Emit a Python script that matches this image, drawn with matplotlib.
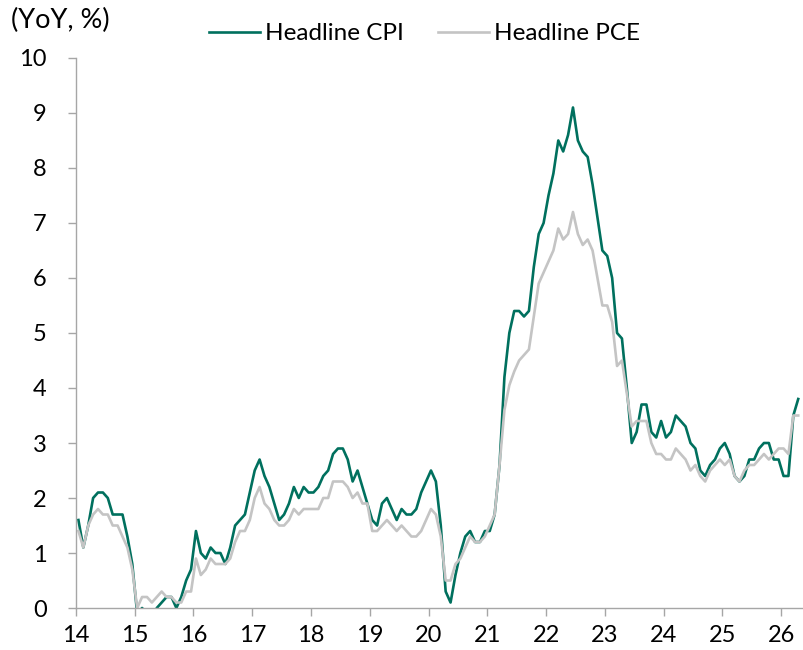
import numpy as np
import matplotlib
matplotlib.use('Agg')
import matplotlib.pyplot as plt

plt.rcParams['font.family'] = ['Lato', 'DejaVu Sans']

# Monthly YoY, %, Jan 2014 - Apr 2026
cpi_2014 = [1.6, 1.1, 1.5, 2.0, 2.1, 2.1, 2.0, 1.7, 1.7, 1.7, 1.3, 0.8]
cpi_2015 = [-0.1, 0.0, -0.1, -0.2, 0.0, 0.1, 0.2, 0.2, 0.0, 0.2, 0.5, 0.7]
cpi_2016 = [1.4, 1.0, 0.9, 1.1, 1.0, 1.0, 0.8, 1.1, 1.5, 1.6, 1.7, 2.1]
cpi_2017 = [2.5, 2.7, 2.4, 2.2, 1.9, 1.6, 1.7, 1.9, 2.2, 2.0, 2.2, 2.1]
cpi_2018 = [2.1, 2.2, 2.4, 2.5, 2.8, 2.9, 2.9, 2.7, 2.3, 2.5, 2.2, 1.9]
cpi_2019 = [1.6, 1.5, 1.9, 2.0, 1.8, 1.6, 1.8, 1.7, 1.7, 1.8, 2.1, 2.3]
cpi_2020 = [2.5, 2.3, 1.5, 0.3, 0.1, 0.6, 1.0, 1.3, 1.4, 1.2, 1.2, 1.4]
cpi_2021 = [1.4, 1.7, 2.6, 4.2, 5.0, 5.4, 5.4, 5.3, 5.4, 6.2, 6.8, 7.0]
cpi_2022 = [7.5, 7.9, 8.5, 8.3, 8.6, 9.1, 8.5, 8.3, 8.2, 7.7, 7.1, 6.5]
cpi_2023 = [6.4, 6.0, 5.0, 4.9, 4.0, 3.0, 3.2, 3.7, 3.7, 3.2, 3.1, 3.4]
cpi_2024 = [3.1, 3.2, 3.5, 3.4, 3.3, 3.0, 2.9, 2.5, 2.4, 2.6, 2.7, 2.9]
cpi_2025 = [3.0, 2.8, 2.4, 2.3, 2.4, 2.7, 2.7, 2.9, 3.0, 3.0, 2.7, 2.7]
cpi_2026 = [2.4, 2.4, 3.5, 3.8]

pce_2014 = [1.4, 1.1, 1.5, 1.7, 1.8, 1.7, 1.7, 1.5, 1.5, 1.3, 1.1, 0.7]
pce_2015 = [0.0, 0.2, 0.2, 0.1, 0.2, 0.3, 0.2, 0.2, 0.1, 0.1, 0.3, 0.3]
pce_2016 = [0.9, 0.6, 0.7, 0.9, 0.8, 0.8, 0.8, 0.9, 1.2, 1.4, 1.4, 1.6]
pce_2017 = [2.0, 2.2, 1.9, 1.8, 1.6, 1.5, 1.5, 1.6, 1.8, 1.7, 1.8, 1.8]
pce_2018 = [1.8, 1.8, 2.0, 2.0, 2.3, 2.3, 2.3, 2.2, 2.0, 2.1, 1.9, 1.9]
pce_2019 = [1.4, 1.4, 1.5, 1.6, 1.5, 1.4, 1.5, 1.4, 1.3, 1.3, 1.4, 1.6]
pce_2020 = [1.8, 1.7, 1.3, 0.5, 0.5, 0.8, 0.9, 1.1, 1.3, 1.2, 1.2, 1.3]
pce_2021 = [1.5, 1.7, 2.6, 3.6, 4.05, 4.3, 4.5, 4.6, 4.7, 5.3, 5.9, 6.1]
pce_2022 = [6.3, 6.5, 6.9, 6.7, 6.8, 7.2, 6.8, 6.6, 6.7, 6.5, 6.0, 5.5]
pce_2023 = [5.5, 5.2, 4.4, 4.5, 3.9, 3.3, 3.4, 3.4, 3.4, 3.0, 2.8, 2.8]
pce_2024 = [2.7, 2.7, 2.9, 2.8, 2.7, 2.5, 2.6, 2.4, 2.3, 2.5, 2.6, 2.7]
pce_2025 = [2.6, 2.7, 2.4, 2.3, 2.5, 2.6, 2.6, 2.7, 2.8, 2.7, 2.8, 2.9]
pce_2026 = [2.9, 2.8, 3.5, 3.5]

cpi = np.array(cpi_2014 + cpi_2015 + cpi_2016 + cpi_2017 + cpi_2018 + cpi_2019 + cpi_2020
               + cpi_2021 + cpi_2022 + cpi_2023 + cpi_2024 + cpi_2025 + cpi_2026)
pce = np.array(pce_2014 + pce_2015 + pce_2016 + pce_2017 + pce_2018 + pce_2019 + pce_2020
               + pce_2021 + pce_2022 + pce_2023 + pce_2024 + pce_2025 + pce_2026)

# x in years (14 = 2014), points at mid-month
x = 14 + (np.arange(len(cpi)) + 0.5) / 12

green = '#00705E'
grey = '#C4C4C4'
axcol = '#A6A6A6'

fig = plt.figure(figsize=(8.04, 6.5), dpi=100)
ax = fig.add_axes([0.0945, 0.0646, 0.9055, 0.8462])

ax.plot(x, cpi, color=green, lw=1.9, label='Headline CPI')
ax.plot(x, pce, color=grey, lw=1.9, label='Headline PCE')

ax.set_xlim(14, 26.39)
ax.set_ylim(0, 10)
ax.set_xticks(range(14, 27))
ax.set_yticks(range(0, 11))

for s in ['top', 'right']:
    ax.spines[s].set_visible(False)
for s in ['left', 'bottom']:
    ax.spines[s].set_color(axcol)
    ax.spines[s].set_linewidth(1.0)

ax.tick_params(axis='both', colors=axcol, labelcolor='black', labelsize=17,
               length=6, width=1.0)
ax.tick_params(axis='y', pad=15)
ax.tick_params(axis='x', pad=6)

fig.text(0.014, 0.969, '(YoY, %)', fontsize=19.5, va='center', ha='left')

ax.legend(loc='center', bbox_to_anchor=(0.479, 1.0445), ncol=2, frameon=False,
          fontsize=17.5, handlelength=2.1, handletextpad=0.2, columnspacing=1.4,
          borderaxespad=0, borderpad=0)

fig.savefig('out.png', dpi=100)
